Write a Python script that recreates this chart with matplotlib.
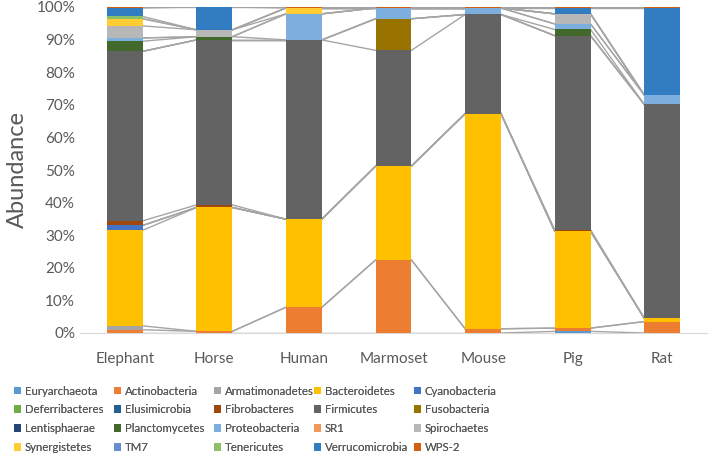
import matplotlib.pyplot as plt
import numpy as np

animals = ["Elephant", "Horse", "Human", "Marmoset", "Mouse", "Pig", "Rat"]

phyla = ["Euryarchaeota", "Actinobacteria", "Armatimonadetes", "Bacteroidetes", "Cyanobacteria",
         "Deferribacteres", "Elusimicrobia", "Fibrobacteres", "Firmicutes", "Fusobacteria",
         "Lentisphaerae", "Planctomycetes", "Proteobacteria", "SR1", "Spirochaetes",
         "Synergistetes", "TM7", "Tenericutes", "Verrucomicrobia", "WPS-2"]

colors = ["#5B9BD5", "#ED7D31", "#A5A5A5", "#FFC000", "#4472C4",
          "#70AD47", "#255E91", "#9E480E", "#636363", "#997300",
          "#264478", "#43682B", "#7CAFDD", "#F1975A", "#B7B7B7",
          "#FFCD33", "#698ED0", "#8CC168", "#327DC2", "#D26012"]

# abundance in %, order of animals above
euryarchaeota   = [0.0, 0.0, 0.0, 0.0, 0.0, 0.5, 0.0]
actinobacteria  = [1.0, 0.5, 7.9, 22.4, 1.3, 1.0, 3.5]
armatimonadetes = [1.2, 0.0, 0.0, 0.0, 0.0, 0.0, 0.0]
bacteroidetes   = [29.3, 38.0, 27.0, 28.8, 66.0, 29.7, 1.0]
cyanobacteria   = [1.5, 0.0, 0.0, 0.0, 0.0, 0.0, 0.0]
deferribacteres = [0.0, 0.0, 0.0, 0.0, 0.0, 0.0, 0.0]
elusimicrobia   = [0.0, 0.0, 0.0, 0.0, 0.0, 0.0, 0.0]
fibrobacteres   = [1.4, 0.8, 0.0, 0.0, 0.0, 0.5, 0.0]
firmicutes      = [52.0, 50.6, 55.0, 35.5, 30.4, 59.5, 65.6]
fusobacteria    = [0.0, 0.0, 0.0, 9.7, 0.0, 0.0, 0.0]
lentisphaerae   = [0.0, 0.0, 0.0, 0.0, 0.0, 0.0, 0.0]
planctomycetes  = [3.1, 1.0, 0.0, 0.0, 0.0, 1.9, 0.0]
proteobacteria  = [1.0, 0.0, 8.0, 3.3, 2.0, 1.7, 2.9]
sr1             = [0.0, 0.0, 0.0, 0.0, 0.0, 0.0, 0.0]
spirochaetes    = [3.7, 2.1, 0.0, 0.0, 0.0, 3.1, 0.0]
synergistetes   = [2.2, 0.0, 1.8, 0.0, 0.0, 0.0, 0.0]
tm7             = [0.0, 0.0, 0.0, 0.0, 0.0, 0.0, 0.0]
tenericutes     = [0.7, 0.0, 0.0, 0.0, 0.0, 0.0, 0.0]
verrucomicrobia = [2.6, 7.0, 0.0, 0.0, 0.0, 1.8, 26.7]
wps2            = [0.3, 0.0, 0.3, 0.3, 0.3, 0.3, 0.3]

values = [euryarchaeota, actinobacteria, armatimonadetes, bacteroidetes, cyanobacteria,
          deferribacteres, elusimicrobia, fibrobacteres, firmicutes, fusobacteria,
          lentisphaerae, planctomycetes, proteobacteria, sr1, spirochaetes,
          synergistetes, tm7, tenericutes, verrucomicrobia, wps2]

plt.rcParams['font.family'] = ['Lato', 'DejaVu Sans']

fig = plt.figure(figsize=(7.09, 4.55), dpi=100)
ax = fig.add_axes([80 / 709, 1 - 333 / 455, 627 / 709, 326 / 455])

x = np.arange(len(animals))
width = 0.4
bottom = np.zeros(len(animals))
handles = []
for name, vals, col in zip(phyla, values, colors):
    v = np.array(vals) / 100.0
    h = ax.bar(x, v, width, bottom=bottom, color=col, label=name, zorder=3)
    handles.append(h)
    top = bottom + v
    # series lines like Excel
    for i in range(len(animals) - 1):
        ax.plot([x[i] + width / 2, x[i + 1] - width / 2], [top[i], top[i + 1]],
                color="#A5A5A5", linewidth=1, zorder=2)
    bottom = top

ax.set_xlim(-0.5, len(animals) - 0.5)
ax.set_ylim(0, 1.0)
ax.set_yticks(np.arange(0, 1.01, 0.1))
ax.set_yticklabels([f"{int(round(t * 100))}%" for t in np.arange(0, 1.01, 0.1)])
ax.set_xticks(x)
ax.set_xticklabels(animals)
ax.tick_params(axis='both', length=0, labelsize=11, colors="#595959")
ax.tick_params(axis='x', pad=14)
for s in ["top", "right", "left"]:
    ax.spines[s].set_visible(False)
ax.spines["bottom"].set_color("#D9D9D9")
ax.set_ylabel("Abundance", fontsize=17, color="#595959", labelpad=6)

# legend filled row by row like Excel, one legend per column with fixed x
ncol = 5
col_x = [9, 109, 209, 309, 409]
for c in range(ncol):
    idx = list(range(c, len(phyla), ncol))
    leg = fig.legend([handles[i] for i in idx], [phyla[i] for i in idx],
                     loc="upper left", bbox_to_anchor=(col_x[c] / 709, 1 - 381 / 455),
                     frameon=False, handlelength=0.65, handleheight=0.65,
                     handletextpad=0.35, labelspacing=0.68, borderaxespad=0,
                     labelcolor="#595959", fontsize=8.2)
    fig.add_artist(leg)

fig.savefig("out.png", dpi=100)
